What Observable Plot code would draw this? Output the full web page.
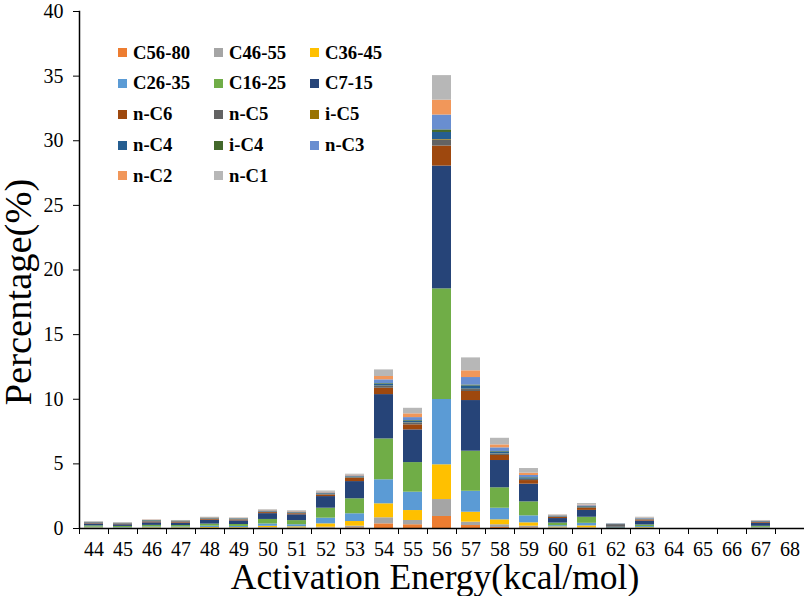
<!DOCTYPE html>
<html>
<head>
<meta charset="utf-8">
<script src="https://cdn.jsdelivr.net/npm/d3@7"></script>
<script src="https://cdn.jsdelivr.net/npm/@observablehq/plot@0.6"></script>
<style>
  html, body { margin: 0; padding: 0; background: #fff; }
  #wrap { position: relative; width: 809px; height: 596px; font-family: "Liberation Serif", "Times New Roman", serif; }
  #legend { position: absolute; left: 0; top: 0; }
  .li { position: absolute; display: flex; align-items: center; font-weight: bold; font-size: 18.7px; color: #000; white-space: nowrap; }
  .sw { width: 9px; height: 9px; margin-right: 6px; }
  svg g[aria-label="x-axis tick label"] text, svg g[aria-label="x-axis tick label"] { font-size: 20px; }
  svg g[aria-label="y-axis tick label"] text, svg g[aria-label="y-axis tick label"] { font-size: 20px; }
</style>
</head>
<body>
<div id="wrap"><div id="chart"></div><div id="legend"></div></div>
<script>
const energies = ["44","45","46","47","48","49","50","51","52","53","54","55","56","57","58","59","60","61","62","63","64","65","66","67","68"];
const seriesNames = ["C56-80","C46-55","C36-45","C26-35","C16-25","C7-15","n-C6","n-C5","i-C5","n-C4","i-C4","n-C3","n-C2","n-C1"];
const seriesColors = ["#ED7D31","#A5A5A5","#FFC000","#5B9BD5","#70AD47","#264478","#9E480E","#636363","#997300","#255E91","#43682B","#698ED0","#F1975A","#B7B7B7"];

const C56_80 = [0,0,0,0,0,0,0.02,0.01,0.03,0.05,0.36,0.29,0.93,0.23,0.08,0.05,0.02,0.02,0,0.01,0,0,0,0,0];
const C46_55 = [0.02,0.02,0.02,0.02,0.02,0.02,0.05,0.04,0.07,0.13,0.47,0.33,1.31,0.26,0.21,0.13,0.04,0.03,0,0.02,0,0,0,0.01,0];
const C36_45 = [0.03,0.02,0.04,0.04,0.06,0.05,0.10,0.08,0.26,0.36,1.08,0.77,2.69,0.77,0.38,0.26,0.06,0.15,0,0.04,0,0,0,0.03,0];
const C26_35 = [0.05,0.04,0.06,0.06,0.10,0.09,0.18,0.16,0.44,0.60,1.86,1.42,5.05,1.62,0.90,0.54,0.10,0.20,0.02,0.08,0,0,0,0.05,0];
const C16_25 = [0.10,0.08,0.12,0.11,0.16,0.15,0.35,0.32,0.77,1.16,3.16,2.29,8.56,3.10,1.58,1.08,0.20,0.47,0.03,0.12,0,0,0,0.08,0];
const C7_15  = [0.15,0.13,0.20,0.19,0.30,0.28,0.45,0.45,0.90,1.33,3.43,2.53,9.50,3.92,2.11,1.37,0.35,0.53,0.05,0.30,0,0,0,0.22,0];
const nC6    = [0.03,0.03,0.05,0.05,0.06,0.06,0.08,0.08,0.12,0.25,0.49,0.39,1.55,0.70,0.39,0.28,0.08,0.15,0,0.08,0,0,0,0.06,0];
const nC5    = [0.05,0.04,0.06,0.05,0.04,0.04,0.04,0.04,0.05,0.05,0.14,0.12,0.45,0.15,0.10,0.08,0.04,0.06,0.20,0.04,0,0,0,0.04,0];
const iC5    = [0.01,0.01,0.01,0.01,0.01,0.01,0.01,0.01,0.01,0.01,0.03,0.03,0.05,0.03,0.02,0.02,0.01,0.01,0,0.01,0,0,0,0.01,0];
const nC4    = [0.03,0.03,0.04,0.03,0.03,0.03,0.04,0.04,0.05,0.05,0.14,0.13,0.55,0.25,0.15,0.10,0.04,0.06,0.04,0.03,0,0,0,0.04,0];
const iC4    = [0.01,0.01,0.02,0.02,0.02,0.02,0.02,0.02,0.02,0.02,0.05,0.05,0.20,0.07,0.04,0.03,0.02,0.02,0,0.01,0,0,0,0.01,0];
const nC3    = [0.01,0.01,0.01,0.01,0.02,0.02,0.03,0.03,0.04,0.06,0.29,0.23,1.15,0.58,0.28,0.16,0.03,0.06,0,0.03,0,0,0,0.02,0];
const nC2    = [0.01,0.01,0.02,0.01,0.02,0.02,0.03,0.03,0.04,0.05,0.26,0.29,1.15,0.52,0.23,0.18,0.03,0.05,0,0.03,0,0,0,0.02,0];
const nC1    = [0.02,0.02,0.02,0.02,0.03,0.03,0.05,0.06,0.10,0.08,0.51,0.43,1.90,1.00,0.51,0.36,0.04,0.12,0.04,0.07,0,0,0,0.03,0];
const yTicks = [0,5,10,15,20,25,30,35,40];
const xTitle = "Activation Energy(kcal/mol)";
const yTitle = "Percentage(%)";

const seriesValues = [C56_80,C46_55,C36_45,C26_35,C16_25,C7_15,nC6,nC5,iC5,nC4,iC4,nC3,nC2,nC1];
const rows = [];
seriesNames.forEach((name, si) => {
  energies.forEach((e, i) => rows.push({energy: e, comp: name, value: seriesValues[si][i]}));
});

const W = 809, H = 596, mL = 79, mR = 5, mT = 11, mB = 68;
const step = (W - mL - mR) / energies.length;

const chart = Plot.plot({
  width: W, height: H,
  marginLeft: mL, marginRight: mR, marginTop: mT, marginBottom: mB,
  style: {fontFamily: '"Liberation Serif", "Times New Roman", serif', color: "#000", background: "#fff"},
  x: {domain: energies, paddingInner: 0.33, paddingOuter: 0.165},
  y: {domain: [0, 40]},
  color: {domain: seriesNames, range: seriesColors},
  marks: [
    Plot.barY(rows, {x: "energy", y: "value", fill: "comp"}),
    Plot.axisY({ticks: yTicks, tickSize: 6, tickPadding: 10, label: null}),
    Plot.axisX({tickSize: 0, tickPadding: 13, label: null}),
    Plot.axisX({tickSize: 6, tickFormat: () => "", dx: -step / 2, label: null}),
    Plot.ruleY([0], {stroke: "#000", strokeWidth: 1.5}),
    Plot.frame({anchor: "left", stroke: "#000", strokeWidth: 1.5}),
    Plot.text([yTitle], {text: d => d, frameAnchor: "left", rotate: -90, dx: -61, dy: 22, fontSize: 38.5, lineAnchor: "middle", textAnchor: "middle", fill: "#000"}),
    Plot.text([xTitle], {text: d => d, frameAnchor: "bottom", dx: -7, dy: 35, fontSize: 35.5, lineAnchor: "top", textAnchor: "middle", fill: "#000"})
  ]
});
document.getElementById("chart").appendChild(chart);

// legend
const legend = document.getElementById("legend");
const colX = [118, 214, 310];
const rowY = [52.7, 83.3, 114, 145, 175.7];
seriesNames.forEach((name, i) => {
  const d = document.createElement("div");
  d.className = "li";
  d.style.left = colX[i % 3] + "px";
  d.style.top = (rowY[Math.floor(i / 3)] - 10) + "px";
  d.style.height = "20px";
  const s = document.createElement("span");
  s.className = "sw";
  s.style.background = seriesColors[i];
  d.appendChild(s);
  d.appendChild(document.createTextNode(name));
  legend.appendChild(d);
});
</script>
</body>
</html>
